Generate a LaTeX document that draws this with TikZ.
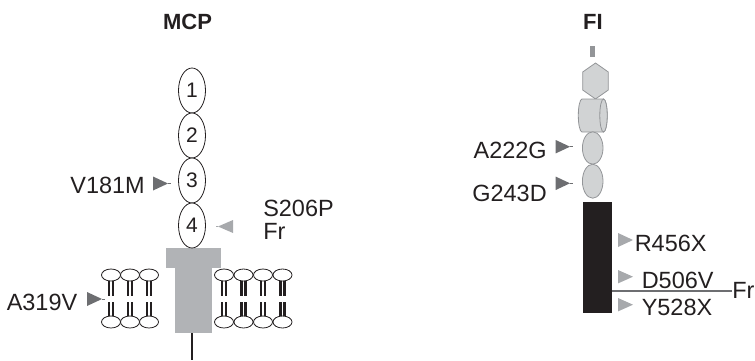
\documentclass[tikz,border=0pt]{standalone}
\usepackage{fontspec}
\setmainfont{Liberation Sans}
\usetikzlibrary{positioning}

\definecolor{ink}{HTML}{231F20}
\definecolor{tgray}{HTML}{B1B3B6}
\definecolor{dgray}{HTML}{6D6E71}
\definecolor{lgray}{HTML}{A7A9AC}
\definecolor{dfill}{HTML}{D1D3D4}
\definecolor{dline}{HTML}{939598}

\tikzset{
  lbl/.style={inner sep=0pt, text=ink, font=\fontsize{17.6pt}{20pt}\selectfont},
  ttl/.style={inner sep=0pt, text=ink, font=\fontsize{16.5pt}{19pt}\selectfont\bfseries},
  num/.style={inner sep=0pt, text=ink, font=\fontsize{15.75pt}{18pt}\selectfont},
  head/.style={draw=ink, fill=white, line width=0.6pt},
  tail/.style={ink, line width=2pt},
  dom/.style={draw=dline, fill=dfill, line width=0.6pt},
}

\begin{document}
\begin{tikzpicture}[x=0.75pt,y=-0.75pt]
  \useasboundingbox (0,0) rectangle (755,360);

  % ---- MCP ----
  \node[ttl] (mcp) at (187.5,22) {MCP};

  % transmembrane part
  \fill[tgray] (166,248) rectangle (221,268);
  \fill[tgray] (175,268) rectangle (212,333);
  \draw[ink, line width=2.2pt] (192,333) -- (192,360);

  % CCP modules
  \foreach \i in {1,...,4} {
    \draw[head] (192,45*\i+45.5) ellipse [x radius=13.5, y radius=22.5];
    \node[num] (ccp\i) at (192,45*\i+45.5) {\i};
  }

  % membrane
  \foreach \c in {111,130,149,224,243.5,263,282.5} {
    \draw[tail] (\c-2,281) -- (\c-2,296);
    \draw[tail] (\c+2,281) -- (\c+2,296);
    \draw[tail] (\c-2,302) -- (\c-2,316);
    \draw[tail] (\c+2,302) -- (\c+2,316);
    \draw[head] (\c,275) ellipse [x radius=9.5, y radius=6];
    \draw[head] (\c,322) ellipse [x radius=9.5, y radius=6];
  }

  % mutations
  \node[lbl, anchor=east] (v181m) at (145,185.5) {V181M};
  \fill[dgray] (168,183.5) -- ++(-15,-7) -- ++(0,14) -- cycle;
  \draw[dgray, line width=0.5pt] (168,183.5) -- ++(3,0);

  \node[lbl, anchor=east] (a319v) at (77.5,302.5) {A319V};
  \fill[dgray] (102,299) -- ++(-15,-7) -- ++(0,14) -- cycle;
  \draw[dgray, line width=0.5pt] (102,299) -- ++(3,0);

  \node[lbl, anchor=west] (s206p) at (263,208.5) {S206P};
  \node[lbl, anchor=west] (frm) at (263,231) {Fr};
  \fill[lgray] (218,226.5) -- ++(15,-6.5) -- ++(0,13) -- cycle;
  \draw[lgray, line width=0.5pt] (218,226.5) -- ++(-2,0);

  % ---- FI ----
  \node[ttl] (fi) at (593,22) {FI};

  \fill[dline] (590,46) rectangle (595,57);
  \draw[dom] (595.5,63) -- (608.3,72) -- (608.3,90) -- (595.5,99)
    -- (582.7,90) -- (582.7,72) -- cycle;
  \draw[dom] (582,99) -- (603.5,99)
    arc[start angle=-90, end angle=90, x radius=3.7, y radius=16.5]
    -- (582,132)
    arc[start angle=90, end angle=270, x radius=3.7, y radius=16.5] -- cycle;
  \draw[dom] (603.5,115.5) ellipse [x radius=3.7, y radius=16.5];
  \draw[dom] (592.7,148) ellipse [x radius=10.3, y radius=16.2];
  \draw[dom] (592.7,181.2) ellipse [x radius=10.3, y radius=17];

  % serine protease domain
  \fill[ink] (582.7,201.7) rectangle (611.7,312.7);

  % mutations
  \node[lbl, anchor=east] (a222g) at (547,150.5) {A222G};
  \fill[dgray] (570,146.7) -- ++(-14.3,-6.7) -- ++(0,13.4) -- cycle;
  \draw[dgray, line width=0.5pt] (570,146.7) -- ++(3,0);

  \node[lbl, anchor=east] (g243d) at (547,193.7) {G243D};
  \fill[dgray] (570,183.3) -- ++(-14.3,-6.7) -- ++(0,13.4) -- cycle;
  \draw[dgray, line width=0.5pt] (570,183.3) -- ++(3,0);

  \node[lbl, anchor=west] (r456x) at (634.5,243.5) {R456X};
  \fill[lgray] (633,240) -- ++(-15,-7) -- ++(0,14) -- cycle;

  \node[lbl, anchor=west] (d506v) at (641.5,280) {D506V};
  \fill[lgray] (633,276.7) -- ++(-15,-6.7) -- ++(0,13.4) -- cycle;

  \node[lbl, anchor=west] (y528x) at (641.5,307.5) {Y528X};
  \fill[lgray] (633,304.7) -- ++(-15,-6.7) -- ++(0,13.4) -- cycle;

  \coordinate (cut) at (611.7,291);
  \node[lbl, anchor=west] (frf) at (732,290) {Fr};
  \draw[dgray, line width=0.8pt] (cut) -- (cut -| frf.west);
\end{tikzpicture}
\end{document}
